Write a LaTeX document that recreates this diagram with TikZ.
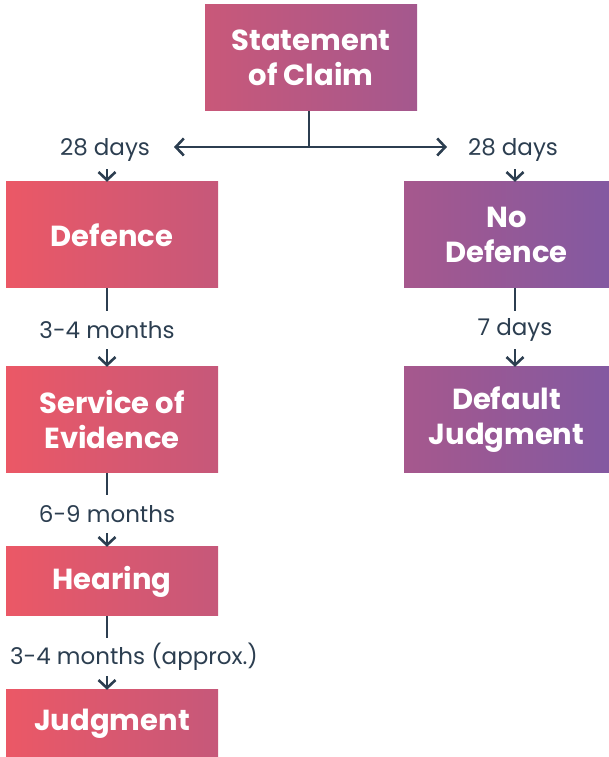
\documentclass[tikz,border=0pt]{standalone}
\usepackage{fontspec}
\setmainfont{Poppins}
\usetikzlibrary{arrows.meta}
\definecolor{lab}{RGB}{44,62,80}
\definecolor{cA}{RGB}{235,88,102}
\definecolor{cB}{RGB}{198,88,122}
\definecolor{cC}{RGB}{201,88,121}
\definecolor{cD}{RGB}{164,88,142}
\definecolor{cE}{RGB}{166,88,141}
\definecolor{cF}{RGB}{131,89,161}
\tikzset{
  box/.style={rectangle, inner sep=0pt, text=white, align=center,
    font=\fontsize{29}{35}\selectfont\bfseries},
  leftbox/.style={box, left color=cA, right color=cB, minimum width=212pt},
  rightbox/.style={box, left color=cE, right color=cF, minimum width=205pt},
  topbox/.style={box, left color=cC, right color=cD, minimum width=212pt},
  lbl/.style={inner sep=0pt, minimum height=38pt, text=lab,
    font=\fontsize{23}{27}\selectfont},
  conn/.style={draw=lab, line width=2.6pt},
  arr/.style={conn, -{Straight Barb[length=8pt,width=17pt,line width=2.6pt]}},
}
\begin{document}
\begin{tikzpicture}[x=1pt,y=1pt]
\useasboundingbox (0,0) rectangle (609,757);
% boxes
\node[topbox, minimum height=106pt] (soc) at (311,699) {Statement\\of Claim};
\node[leftbox, minimum height=106pt] (def) at (112,522) {Defence};
\node[rightbox, minimum height=106pt] (nodef) at (506.5,522) {No\\Defence};
\node[leftbox, minimum height=106pt] (soe) at (112,337) {Service of\\Evidence};
\node[rightbox, minimum height=106pt] (dj) at (506.5,337) {Default\\Judgment};
\node[leftbox, minimum height=69pt] (hear) at (112,175.5) {Hearing};
\node[leftbox, minimum height=67pt] (judg) at (112,33.5) {Judgment};
% labels
\node[lbl] (l28a) at (105,607) {28 days};
\node[lbl] (l28b) at (513,607) {28 days};
\node[lbl] (l34) at (107,427) {3-4 months};
\node[lbl] (l7) at (515,427) {7 days};
\node[lbl] (l69) at (107,243) {6-9 months};
\node[lbl] (lap) at (134,100) {3-4 months (approx.)};
% split
\coordinate (jn) at (309,610);
\coordinate (endL) at (174,610);
\coordinate (endR) at (447,610);
\draw[conn] (soc.south -| jn) -- (jn);
\draw[arr] (jn) -- (endL);
\draw[arr] (jn) -- (endR);
\coordinate (xl) at (107,0);
\coordinate (xr) at (515,0);
\draw[arr] (l28a.south -| xl) -- (def.north -| xl);
\draw[arr] (l28b.south -| xr) -- (nodef.north -| xr);
% left chain
\draw[conn] (def.south -| xl) -- (l34.north -| xl);
\draw[arr] (l34.south -| xl) -- (soe.north -| xl);
\draw[conn] (soe.south -| xl) -- (l69.north -| xl);
\draw[arr] (l69.south -| xl) -- (hear.north -| xl);
\draw[conn] (hear.south -| xl) -- (lap.north -| xl);
\draw[arr] (lap.south -| xl) -- (judg.north -| xl);
% right chain
\draw[conn] (nodef.south -| xr) -- (l7.north -| xr);
\draw[arr] (l7.south -| xr) -- (dj.north -| xr);
\end{tikzpicture}
\end{document}
